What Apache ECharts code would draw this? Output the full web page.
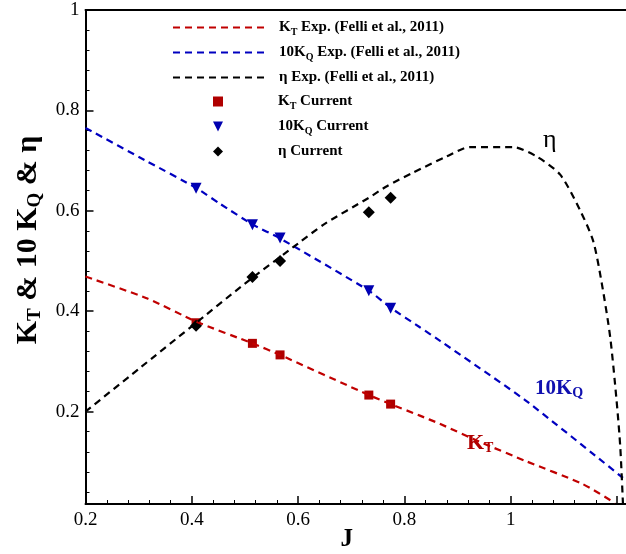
<!DOCTYPE html>
<html>
<head>
<meta charset="utf-8">
<script src="https://cdn.jsdelivr.net/npm/echarts@6/dist/echarts.min.js"></script>
<style>html,body{margin:0;padding:0;background:#fff}#c{width:626px;height:554px}</style>
</head>
<body>
<div id="c"></div>
<script>
// ---- data ----
const ktExpJ = [0.2, 0.315, 0.409, 0.514, 0.566, 0.733, 0.774, 0.829, 0.866, 0.948, 1.027, 1.135, 1.196];
const ktExpV = [0.469, 0.426, 0.379, 0.336, 0.313, 0.233, 0.215, 0.192, 0.176, 0.137, 0.102, 0.056, 0.018];
const kqExpJ = [0.2, 0.315, 0.409, 0.453, 0.514, 0.566, 0.733, 0.774, 0.829, 0.867, 1.027, 1.211];
const kqExpV = [0.765, 0.699, 0.645, 0.614, 0.573, 0.545, 0.441, 0.407, 0.368, 0.341, 0.223, 0.068];
const etaExpJ = [0.2, 0.3, 0.4, 0.5, 0.6, 0.65, 0.733, 0.767, 0.816, 0.879, 0.923, 1.004, 1.049, 1.093, 1.130, 1.155, 1.171, 1.187, 1.199, 1.206, 1.211];
const etaExpV = [0.2, 0.285, 0.37, 0.455, 0.535, 0.574, 0.626, 0.649, 0.676, 0.708, 0.727, 0.727, 0.708, 0.672, 0.602, 0.54, 0.457, 0.349, 0.223, 0.13, 0.018];
const curJ = [0.408, 0.514, 0.566, 0.733, 0.774];
const ktCur = [0.377, 0.336, 0.313, 0.233, 0.215];
const kqCur = [0.645, 0.572, 0.546, 0.441, 0.406];
const etaCur = [0.371, 0.468, 0.500, 0.597, 0.626];
const xMajor = [0.2, 0.4, 0.6, 0.8, 1.0, 1.2];
const xLabels = [0.2, 0.4, 0.6, 0.8, 1.0];
const yMajor = [0.2, 0.4, 0.6, 0.8, 1.0];
const xMinor = [0.24,0.28,0.32,0.36,0.44,0.48,0.52,0.56,0.64,0.68,0.72,0.76,0.84,0.88,0.92,0.96,1.04,1.08,1.12,1.16];
const yMinor = [0.04,0.08,0.12,0.16,0.24,0.28,0.32,0.36,0.44,0.48,0.52,0.56,0.64,0.68,0.72,0.76,0.84,0.88,0.92,0.96];

const zip = (a, b) => a.map((v, i) => [v, b[i]]);
const RED = '#c00000', BLUE = '#0000c0', BLACK = '#000000';
const FONT = '"Liberation Serif", "Times New Roman", serif';

const chart = echarts.init(document.getElementById('c'), null, {renderer: 'canvas'});

const legRich = {
  b: {fontFamily: FONT, fontWeight: 'bold', fontSize: 15, lineHeight: 20, color: '#000'},
  s: {fontFamily: FONT, fontWeight: 'bold', fontSize: 10, lineHeight: 9, verticalAlign: 'bottom', color: '#000'},
  g: {width: 10},
  g2: {width: 50}
};
const legNames = {
  'KT Exp': '{g| }{b|K}{s|T}{b| Exp. (Felli et al., 2011)}',
  'KQ Exp': '{g| }{b|10K}{s|Q}{b| Exp. (Felli et al., 2011)}',
  'eta Exp': '{g| }{b|η Exp. (Felli et al., 2011)}',
  'KT Cur': '{g2| }{b|K}{s|T}{b| Current}',
  'KQ Cur': '{g2| }{b|10K}{s|Q}{b| Current}',
  'eta Cur': '{g2| }{b|η Current}'
};

const axisCommon = {
  type: 'value', splitLine: {show: false}
};

chart.setOption({
  animation: false,
  backgroundColor: '#fff',
  grid: {left: 85.5, top: 10, right: 0, bottom: 50, containLabel: false, outerBoundsMode: 'none'},
  xAxis: [
    Object.assign({}, axisCommon, {
      min: 0.2, max: 1.2168, position: 'bottom',
      axisLine: {show: true, lineStyle: {color: '#000', width: 2}},
      axisTick: {show: true, inside: true, length: 8, customValues: xMajor, lineStyle: {color: '#000', width: 1.5}},
      axisLabel: {customValues: xLabels, color: '#000', fontFamily: FONT, fontSize: 19, margin: 7},
      name: 'J', nameLocation: 'middle', nameGap: 23, nameMoveOverlap: false,
      nameTextStyle: {fontFamily: FONT, fontWeight: 'bold', fontSize: 25, color: '#000', padding: [0, 18, 0, 0]}
    }),
    Object.assign({}, axisCommon, {
      min: 0.2, max: 1.2168, position: 'bottom',
      axisLine: {show: false},
      axisTick: {show: true, inside: true, length: 4, customValues: xMinor, lineStyle: {color: '#000', width: 1}},
      axisLabel: {show: false}
    }),
    Object.assign({}, axisCommon, {
      min: 0.2, max: 1.2168, position: 'top',
      axisLine: {show: true, lineStyle: {color: '#000', width: 2}},
      axisTick: {show: false}, axisLabel: {show: false}
    })
  ],
  yAxis: [
    Object.assign({}, axisCommon, {
      min: 0.016, max: 1, position: 'left',
      axisLine: {show: true, lineStyle: {color: '#000', width: 2}},
      axisTick: {show: true, inside: true, length: 8, customValues: yMajor, lineStyle: {color: '#000', width: 1.5}},
      axisLabel: {customValues: yMajor, color: '#000', fontFamily: FONT, fontSize: 19, margin: 6},
      name: '{b|K}{s|T}{b| & 10 K}{s|Q}{b| & η}', nameLocation: 'middle', nameGap: 33,
      nameTextStyle: {
        padding: [0, 0, 0, 34],
        rich: {
          b: {fontFamily: FONT, fontWeight: 'bold', fontSize: 30, lineHeight: 34, color: '#000'},
          s: {fontFamily: FONT, fontWeight: 'bold', fontSize: 19, lineHeight: 15, verticalAlign: 'bottom', color: '#000'}
        }
      }
    }),
    Object.assign({}, axisCommon, {
      min: 0.016, max: 1, position: 'left',
      axisLine: {show: false},
      axisTick: {show: true, inside: true, length: 4, customValues: yMinor, lineStyle: {color: '#000', width: 1}},
      axisLabel: {show: false}
    })
  ],
  legend: [
    {
      orient: 'vertical', left: 167, top: 15, itemWidth: 91, itemHeight: 14, itemGap: 7.5,
      data: ['KT Exp', 'KQ Exp', 'eta Exp'],
      formatter: n => legNames[n],
      textStyle: {rich: legRich},
      itemStyle: {opacity: 0},
      selectedMode: false
    },
    {
      orient: 'vertical', left: 208, top: 89, itemWidth: 10, itemHeight: 10, itemGap: 7.5,
      data: ['KT Cur', {name: 'KQ Cur', icon: 'path://M0,0 L10,0 L5,10 Z'}, 'eta Cur'],
      formatter: n => legNames[n],
      textStyle: {rich: legRich},
      selectedMode: false
    }
  ],
  series: [
    {name: 'KT Exp', type: 'line', data: zip(ktExpJ, ktExpV), symbol: 'none', smooth: 0.2, silent: true,
     lineStyle: {color: RED, width: 2.2, type: [7, 5]}, itemStyle: {color: RED}},
    {name: 'KQ Exp', type: 'line', data: zip(kqExpJ, kqExpV), symbol: 'none', smooth: 0.2, silent: true,
     lineStyle: {color: BLUE, width: 2.2, type: [7, 5]}, itemStyle: {color: BLUE}},
    {name: 'eta Exp', type: 'line', data: zip(etaExpJ, etaExpV), symbol: 'none', smooth: 0.25, silent: true,
     lineStyle: {color: BLACK, width: 2.2, type: [7, 5]}, itemStyle: {color: BLACK}},
    {name: 'KT Cur', type: 'scatter', data: zip(curJ, ktCur), symbol: 'rect', symbolSize: 9,
     itemStyle: {color: '#b00000', opacity: 1}},
    {name: 'KQ Cur', type: 'scatter', data: zip(curJ, kqCur), symbol: 'triangle', symbolRotate: 180, symbolSize: 11,
     itemStyle: {color: '#0000b0', opacity: 1}},
    {name: 'eta Cur', type: 'scatter', data: zip(curJ, etaCur), symbol: 'diamond', symbolSize: 12,
     itemStyle: {color: '#000', opacity: 1}}
  ],
  graphic: [
    {type: 'text', left: 543, top: 127, style: {text: 'η', fontFamily: FONT, fontSize: 26, fill: '#000'}},
    {type: 'text', left: 535, top: 378, style: {
      text: '{b|10K}{s|Q}', rich: {
        b: {fontFamily: FONT, fontWeight: 'bold', fontSize: 21, lineHeight: 24, fill: '#1010b0', color: '#1010b0'},
        s: {fontFamily: FONT, fontWeight: 'bold', fontSize: 14, lineHeight: 11, verticalAlign: 'bottom', fill: '#1010b0', color: '#1010b0'}
      }}},
    {type: 'text', left: 467, top: 432, style: {
      text: '{b|K}{s|T}', rich: {
        b: {fontFamily: FONT, fontWeight: 'bold', fontSize: 22, lineHeight: 24, fill: '#b00000', color: '#b00000'},
        s: {fontFamily: FONT, fontWeight: 'bold', fontSize: 14, lineHeight: 11, verticalAlign: 'bottom', fill: '#b00000', color: '#b00000'}
      }}}
  ]
});
</script>
</body>
</html>
